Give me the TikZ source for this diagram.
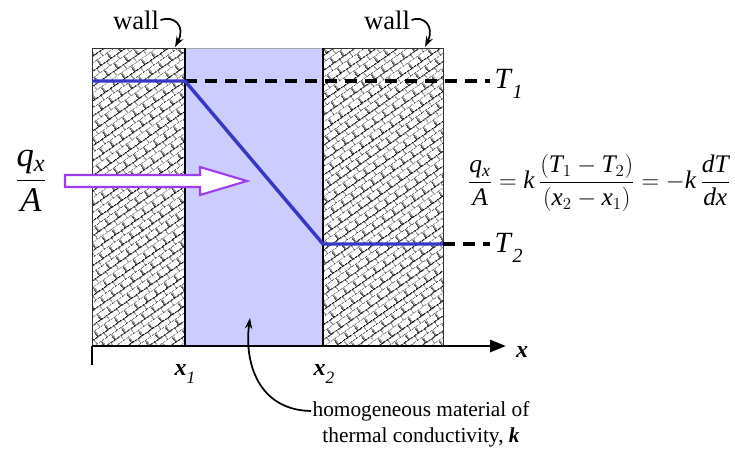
\documentclass[tikz,border=0pt]{standalone}
\usepackage{amsmath}
\usepackage{graphicx}
\usepackage{fontspec}
\setmainfont{Liberation Serif}
\usetikzlibrary{patterns.meta,arrows.meta}
\definecolor{tempblue}{RGB}{55,55,200}
\definecolor{matfill}{RGB}{204,204,255}
\definecolor{fluxviolet}{RGB}{160,60,240}
\newcommand{\vi}[1]{\textit{#1}}
\tikzdeclarepattern{
  name=wallbricks, type=uncolored,
  bounding box={(0,0) and (9pt,9pt)},
  tile size={(9pt,9pt)},
  tile transformation={rotate=35},
  code={
    \draw[line width=0.85pt] (0,0)--(9pt,0) (0,4.5pt)--(9pt,4.5pt)
      (0,0)--(0,4.5pt) (4.5pt,4.5pt)--(4.5pt,9pt);
  }
}
\tikzset{
  wallbox/.style={fill=white, postaction={pattern=wallbricks, pattern color=black}},
  wallline/.style={line width=1.3pt, black},
  templine/.style={line width=2.6pt, tempblue},
  refdash/.style={line width=2.6pt, dash pattern=on 9pt off 6pt},
  lbl/.style={inner sep=1pt},
  callout/.style={line width=1.3pt, -{Stealth[length=8pt,width=5.5pt]}},
}
\begin{document}
\begin{tikzpicture}[x=0.75pt,y=-0.75pt]
\useasboundingbox (0,0) rectangle (735,458);
% regions
\fill[matfill] (185,48) rectangle (323,346);
\draw[gray!70, line width=0.6pt] (185,48) -- (323,48);
\path[wallbox] (92,48) rectangle (185,346);
\path[wallbox] (323,48) rectangle (443,346);
\draw[black!80, line width=0.7pt] (92,346) -- (92,48) -- (185,48);
\draw[black!80, line width=0.7pt] (323,48) -- (443,48) -- (443,346);
\draw[wallline] (185,48) -- (185,346);
\draw[wallline] (323,48) -- (323,346);
% reference lines
\draw[refdash] (185,81) -- (490,81);
\draw[refdash] (443,244) -- (490,244);
% temperature profile
\coordinate (p0) at (92,81);
\coordinate (p1) at (185,81);
\coordinate (p2) at (323,244);
\coordinate (p3) at (443,244);
\draw[templine, line join=round] (p0) -- (p1) -- (p2) -- (p3);
% axis
\coordinate (ax0) at (92,346);
\coordinate (ax1) at (506,346);
\coordinate (tick) at (92,365);
\draw[line width=2.2pt, -{Triangle[length=12pt,width=9pt]}] (ax0) -- (ax1);
\draw[line width=2.2pt] (ax0) -- (tick);
% heat flux arrow
\draw[fluxviolet, fill=white, line width=1.6pt, line join=miter]
  (65,175) -- (200,175) -- (200,167) -- (247,181) -- (200,195) -- (200,187) -- (65,187) -- cycle;
% labels
\node[lbl, font=\fontsize{20}{22}\selectfont] (wallA) at (136,20) {wall};
\node[lbl, font=\fontsize{20}{22}\selectfont] (wallB) at (387,20) {wall};
\coordinate (wallAtip) at (175,47);
\coordinate (wallBtip) at (425,47);
\draw[callout] (wallA.east) .. controls (174,15) and (186,26) .. (wallAtip);
\draw[callout] (wallB.east) .. controls (423,15) and (435,26) .. (wallBtip);
\node[lbl, anchor=west, font=\fontsize{22}{24}\selectfont] (T1) at (493,84) {\vi{T}\raisebox{-0.35em}{\fontsize{15}{16}\selectfont\vi{1}}};
\node[lbl, anchor=west, font=\fontsize{22}{24}\selectfont] (T2) at (493,248) {\vi{T}\raisebox{-0.35em}{\fontsize{15}{16}\selectfont\vi{2}}};
\node[lbl, font=\fontsize{18}{20}\selectfont] (x1) at (185,374) {\textbf{\vi{x}}\raisebox{-0.3em}{\fontsize{13}{14}\selectfont\vi{1}}};
\node[lbl, font=\fontsize{18}{20}\selectfont] (x2) at (324,374) {\textbf{\vi{x}}\raisebox{-0.3em}{\fontsize{13}{14}\selectfont\vi{2}}};
\node[lbl, font=\fontsize{18}{20}\selectfont] (xl) at (522,352) {\textbf{\vi{x}}};
\node[lbl, font=\fontsize{26}{28}\selectfont] (qA) at (31,181) {$\dfrac{\mathit{q}_{\mathit{x}}}{\mathit{A}}$};
\node[lbl, font=\fontsize{18}{20}\selectfont] (eq) at (599,183)
  {\scalebox{1.055}{$\dfrac{\mathit{q}_{\mathit{x}}}{\mathit{A}}=\mathit{k}\,\dfrac{(\mathit{T}_1-\mathit{T}_2)}{(\mathit{x}_2-\mathit{x}_1)}=-\mathit{k}\,\dfrac{\mathit{dT}}{\mathit{dx}}$}};
\node[lbl, font=\fontsize{16}{18}\selectfont] (mat1) at (421,411) {homogeneous material of};
\node[lbl, font=\fontsize{16}{18}\selectfont] (mat2) at (421,437) {thermal conductivity, \textbf{\vi{k}}};
\coordinate (mattip) at (250,318);
\draw[callout] (mat1.west) .. controls (258,410) and (244,362) .. (mattip);
\end{tikzpicture}
\end{document}
